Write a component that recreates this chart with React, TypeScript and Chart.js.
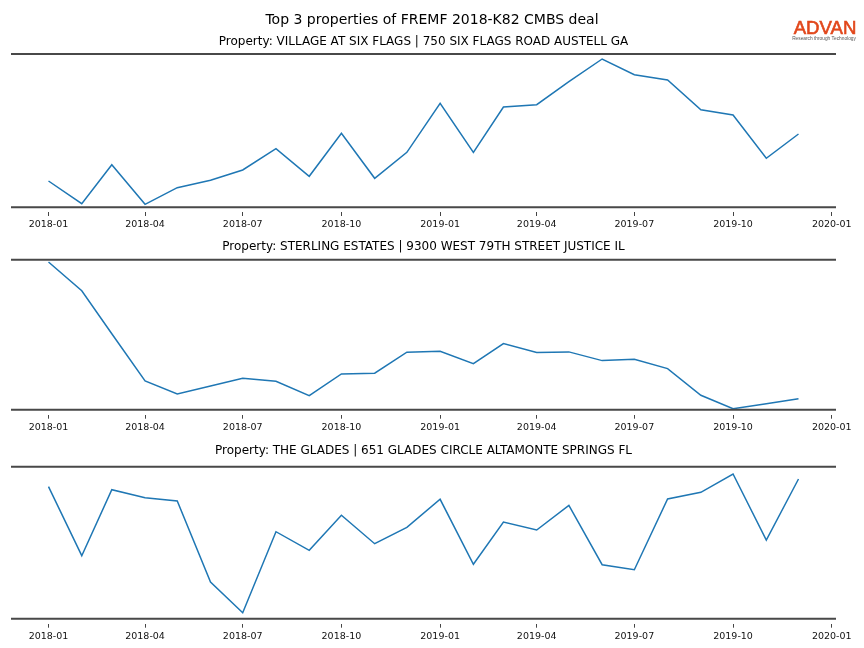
import React, { useEffect, useRef } from 'react';
import { Chart, registerables } from 'chart.js';

Chart.register(...registerables);

// ---------- data ----------
const MONTHS = [
  '2018-01', '2018-02', '2018-03', '2018-04', '2018-05', '2018-06',
  '2018-07', '2018-08', '2018-09', '2018-10', '2018-11', '2018-12',
  '2019-01', '2019-02', '2019-03', '2019-04', '2019-05', '2019-06',
  '2019-07', '2019-08', '2019-09', '2019-10', '2019-11', '2019-12',
];

const TICK_LABELS = [
  '2018-01', '2018-04', '2018-07', '2018-10',
  '2019-01', '2019-04', '2019-07', '2019-10', '2020-01',
];

const SUPTITLE = 'Top 3 properties of FREMF 2018-K82 CMBS deal';

const TITLES = [
  'Property: VILLAGE AT SIX FLAGS | 750 SIX FLAGS ROAD AUSTELL GA',
  'Property: STERLING ESTATES | 9300 WEST 79TH STREET JUSTICE IL',
  'Property: THE GLADES | 651 GLADES CIRCLE ALTAMONTE SPRINGS FL',
];

const VILLAGE = [26.3, 3.6, 42.6, 3.0, 19.6, 27.0, 37.3, 58.6, 31.0, 74.0, 29.0, 55.0,
  104.0, 55.0, 100.3, 102.6, 125.6, 148.3, 132.6, 127.3, 97.6, 92.3, 49.0, 73.3];
const STERLING = [147.4, 118.7, 75.8, 28.7, 15.7, 23.7, 31.4, 28.4, 14.0, 35.7, 36.4, 57.4,
  58.4, 46.0, 66.0, 57.0, 57.7, 49.0, 50.4, 41.0, 14.4, 1.0, 6.0, 11.0];
const GLADES = [132.0, 63.0, 129.0, 121.0, 117.7, 36.7, 6.0, 87.0, 68.4, 103.4, 75.0, 91.4,
  119.4, 54.4, 96.7, 88.7, 113.4, 54.0, 49.0, 119.7, 126.4, 144.7, 78.7, 139.7];

const SERIES = [VILLAGE, STERLING, GLADES];
const Y_MAX = [153.3, 149.7, 152.0];

// ---------- layout / style ----------
const W = 864;
const H = 648;
const AREA_TOP = [54, 259.7, 466.7];
const AREA_BOTTOM = [207.3, 409.7, 618.7];
const TITLE_BASELINE = [45, 250, 454];
const AXIS_H = 30;
const SPINE = '#484848';
const LINE = '#1f77b4';
const FONT = '"DejaVu Sans", sans-serif';

const dayOf = (ym: string) => {
  const [y, m] = ym.split('-').map(Number);
  return (Date.UTC(y, m - 1, 1) - Date.UTC(2018, 0, 1)) / 86400000;
};

const firstDay = dayOf(MONTHS[0]);
const lastDay = dayOf(MONTHS[MONTHS.length - 1]);
const margin = (lastDay - firstDay) * 0.05;
const X_MIN = firstDay - margin;
const X_MAX = lastDay + margin;

const decorPlugin = {
  id: 'decor',
  afterDraw(chart: any, _args: any, opts: any) {
    const { ctx, chartArea: a } = chart;
    ctx.save();
    ctx.strokeStyle = SPINE;
    ctx.lineWidth = 2;
    ctx.beginPath();
    ctx.moveTo(a.left, a.top);
    ctx.lineTo(a.right, a.top);
    ctx.moveTo(a.left, a.bottom);
    ctx.lineTo(a.right, a.bottom);
    ctx.stroke();

    ctx.fillStyle = '#000';
    ctx.textAlign = 'center';
    ctx.textBaseline = 'alphabetic';
    ctx.font = `12px ${FONT}`;
    ctx.fillText(opts.title, (a.left + a.right) / 2, opts.baseline);

    if (opts.header) {
      ctx.font = `14px ${FONT}`;
      ctx.fillText(SUPTITLE, W / 2, 24);
      ctx.fillStyle = '#E2471B';
      ctx.strokeStyle = '#E2471B';
      ctx.lineWidth = 0.6;
      ctx.font = '18.6px "Liberation Sans", Arial, sans-serif';
      ctx.fillText('ADVAN', 825, 33.5);
      ctx.strokeText('ADVAN', 825, 33.5);
      ctx.fillStyle = '#555';
      ctx.font = '4.8px "Liberation Sans", Arial, sans-serif';
      ctx.fillText('Research through Technology', 824, 39.5);
    }
    ctx.restore();
  },
};

function buildConfig(i: number): any {
  const points = MONTHS.map((m, k) => ({ x: dayOf(m), y: SERIES[i][k] }));
  const tickValues = TICK_LABELS.map(dayOf);
  return {
    type: 'line',
    data: {
      datasets: [{
        data: points,
        borderColor: LINE,
        borderWidth: 1.5,
        pointRadius: 0,
        tension: 0,
        fill: false,
      }],
    },
    plugins: [decorPlugin],
    options: {
      animation: false,
      responsive: false,
      events: [],
      layout: {
        padding: {
          left: 11,
          right: W - 836,
          top: AREA_TOP[i],
          bottom: H - AREA_BOTTOM[i] - AXIS_H,
        },
      },
      scales: {
        x: {
          type: 'linear',
          min: X_MIN,
          max: X_MAX,
          afterBuildTicks: (scale: any) => {
            scale.ticks = tickValues.map((v) => ({ value: v }));
          },
          afterFit: (scale: any) => {
            scale.height = AXIS_H;
          },
          ticks: {
            autoSkip: false,
            maxRotation: 0,
            padding: 3,
            color: '#111',
            font: { family: FONT, size: 9.5 },
            callback: (_v: any, idx: number) => TICK_LABELS[idx],
          },
          grid: {
            display: true,
            drawOnChartArea: false,
            drawTicks: true,
            tickLength: 9,
            tickColor: '#444',
            tickWidth: 1,
            tickBorderDash: [4, 100],
            tickBorderDashOffset: 99,
          },
          border: { display: false },
        },
        y: {
          display: false,
          min: 0,
          max: Y_MAX[i],
        },
      },
      plugins: {
        legend: { display: false },
        tooltip: { enabled: false },
        title: { display: false },
        decor: { title: TITLES[i], header: i === 0, baseline: TITLE_BASELINE[i] },
      },
    },
  };
}

function Panel({ index }: { index: number }) {
  const ref = useRef<HTMLCanvasElement | null>(null);
  useEffect(() => {
    if (!ref.current) return;
    const chart = new Chart(ref.current, buildConfig(index));
    return () => chart.destroy();
  }, [index]);
  return (
    <canvas
      ref={ref}
      width={W}
      height={H}
      style={{ position: 'absolute', left: 0, top: 0, width: W, height: H }}
    />
  );
}

export default function App() {
  return (
    <div
      style={{
        position: 'fixed',
        left: 0,
        top: 0,
        width: W,
        height: H,
        background: '#fff',
        overflow: 'hidden',
      }}
    >
      {[0, 1, 2].map((i) => (
        <Panel key={i} index={i} />
      ))}
    </div>
  );
}
